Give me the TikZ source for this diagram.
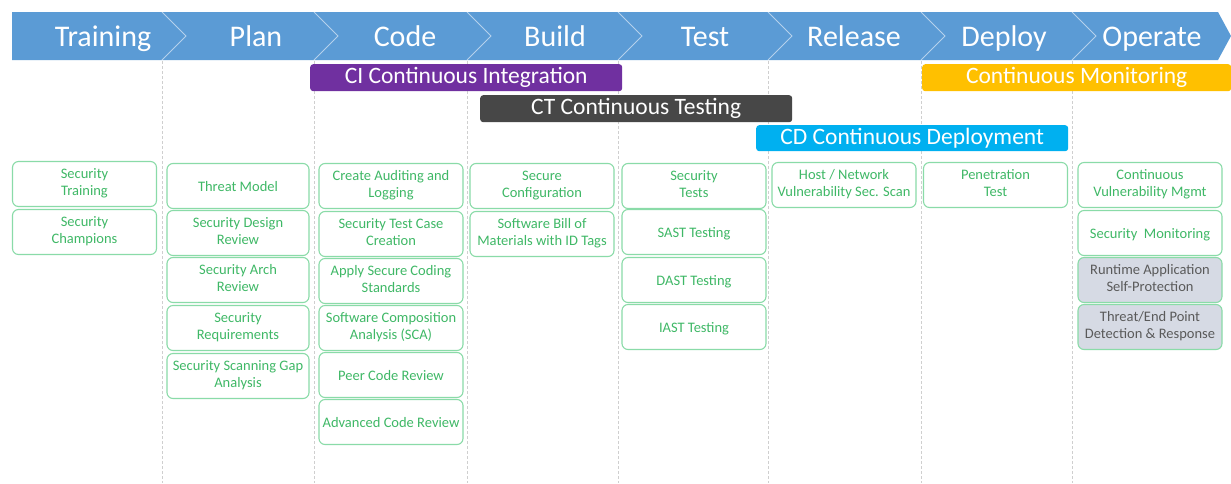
\documentclass[tikz,border=0pt]{standalone}
\usepackage{fontspec}
\setmainfont{Carlito}
\definecolor{hdrblue}{HTML}{5B9BD5}
\definecolor{cipurple}{HTML}{7030A0}
\definecolor{ctgrey}{HTML}{474747}
\definecolor{cdcyan}{HTML}{00B0F0}
\definecolor{cmorange}{HTML}{FFC000}
\definecolor{boxline}{HTML}{8ADBA8}
\definecolor{boxtext}{HTML}{3FB866}
\definecolor{greyfill}{HTML}{D6DAE4}
\definecolor{greytext}{HTML}{5A5A5A}
\definecolor{dashgrey}{HTML}{CFCFCF}
\tikzset{
  hdr/.style={text=white, font=\fontsize{30}{32}\selectfont, inner sep=0pt, anchor=base},
  bar/.style={rectangle, rounded corners=3pt, text=white, font=\fontsize{23.5}{25}\selectfont, inner sep=0pt, anchor=north west},
  act/.style={rectangle, rounded corners=6pt, draw=boxline, line width=1.1pt, fill=white,
    minimum width=144pt, minimum height=45pt, inner sep=1pt, align=center, text=boxtext,
    font=\fontsize{14.5}{17}\selectfont,
    execute at begin node=\rule{0pt}{15pt}, execute at end node=\rule[-3.5pt]{0pt}{3.5pt}},
  actgrey/.style={act, fill=greyfill, text=greytext},
  coldash/.style={draw=dashgrey, dashed, dash pattern=on 3pt off 2pt, line width=0.6pt},
  chev/.style={draw=white, draw opacity=0.55, line width=0.8pt}
}
\begin{document}
\begin{tikzpicture}[x=1pt,y=-1pt]
\useasboundingbox[fill=white] (0,0) rectangle (1231,483);
% header band
\fill[hdrblue] (12,12) -- (1218,12) -- (1231,36) -- (1218,60) -- (12,60) -- cycle;
\foreach \b in {162,314,467,618,768,921,1072}{
  \draw[chev] (\b,12) -- (\b+24,36) -- (\b,60);
  \draw[coldash] (\b,61) -- (\b,483);
}
\node[hdr] (hTraining) at (103,46) {Training};
\node[hdr] (hPlan) at (256,46) {Plan};
\node[hdr] (hCode) at (405,46) {Code};
\node[hdr] (hBuild) at (555,46) {Build};
\node[hdr] (hTest) at (705,46) {Test};
\node[hdr] (hRelease) at (854,46) {Release};
\node[hdr] (hDeploy) at (1004,46) {Deploy};
\node[hdr] (hOperate) at (1152,46) {Operate};
% bars
\node[bar, fill=cipurple, minimum width=312pt, minimum height=27pt] (ci) at (310,64) {CI Continuous Integration};
\node[bar, fill=cmorange, minimum width=309pt, minimum height=27pt] (cm) at (922,64) {Continuous Monitoring};
\node[bar, fill=ctgrey, minimum width=312pt, minimum height=27pt] (ct) at (480,95) {CT Continuous Testing};
\node[bar, fill=cdcyan, minimum width=312pt, minimum height=26pt] (cd) at (756,125) {CD Continuous Deployment};
% Training
\node[act] (t1) at (84.5,184) {Security\\Training};
\node[act] (t2) at (84.5,232) {Security\\Champions};
% Plan
\node[act, minimum width=142pt] (p1) at (238,186) {Threat Model};
\node[act, minimum width=142pt] (p2) at (238,233) {Security Design\\Review};
\node[act, minimum width=142pt] (p3) at (238,280) {Security Arch\\Review};
\node[act, minimum width=142pt] (p4) at (238,328) {Security\\Requirements};
\node[act, minimum width=142pt] (p5) at (238,376) {Security Scanning Gap\\Analysis};
% Code
\node[act] (c1) at (391,186) {Create Auditing and\\Logging};
\node[act] (c2) at (391,234) {Security Test Case\\Creation};
\node[act] (c3) at (391,281) {Apply Secure Coding\\Standards};
\node[act] (c4) at (391,328) {Software Composition\\Analysis (SCA)};
\node[act] (c5) at (391,375) {Peer Code Review};
\node[act] (c6) at (391,422) {Advanced Code Review};
% Build
\node[act] (b1) at (542,186) {Secure\\Configuration};
\node[act] (b2) at (542,234) {Software Bill of\\Materials with ID Tags};
% Test
\node[act] (s1) at (694,186) {Security\\Tests};
\node[act] (s2) at (694,232) {SAST Testing};
\node[act] (s3) at (694,280) {DAST Testing};
\node[act] (s4) at (694,327) {IAST Testing};
% Release
\node[act] (r1) at (844,185) {Host / Network\\Vulnerability Sec. Scan};
% Deploy
\node[act] (d1) at (995.5,185) {Penetration\\Test};
% Operate
\node[act] (o1) at (1150,185) {Continuous\\Vulnerability Mgmt};
\node[act] (o2) at (1150,233) {Security\ \ Monitoring};
\node[actgrey] (o3) at (1150,280) {Runtime Application\\Self-Protection};
\node[actgrey] (o4) at (1150,327) {Threat/End Point\\Detection \& Response};
\end{tikzpicture}
\end{document}
